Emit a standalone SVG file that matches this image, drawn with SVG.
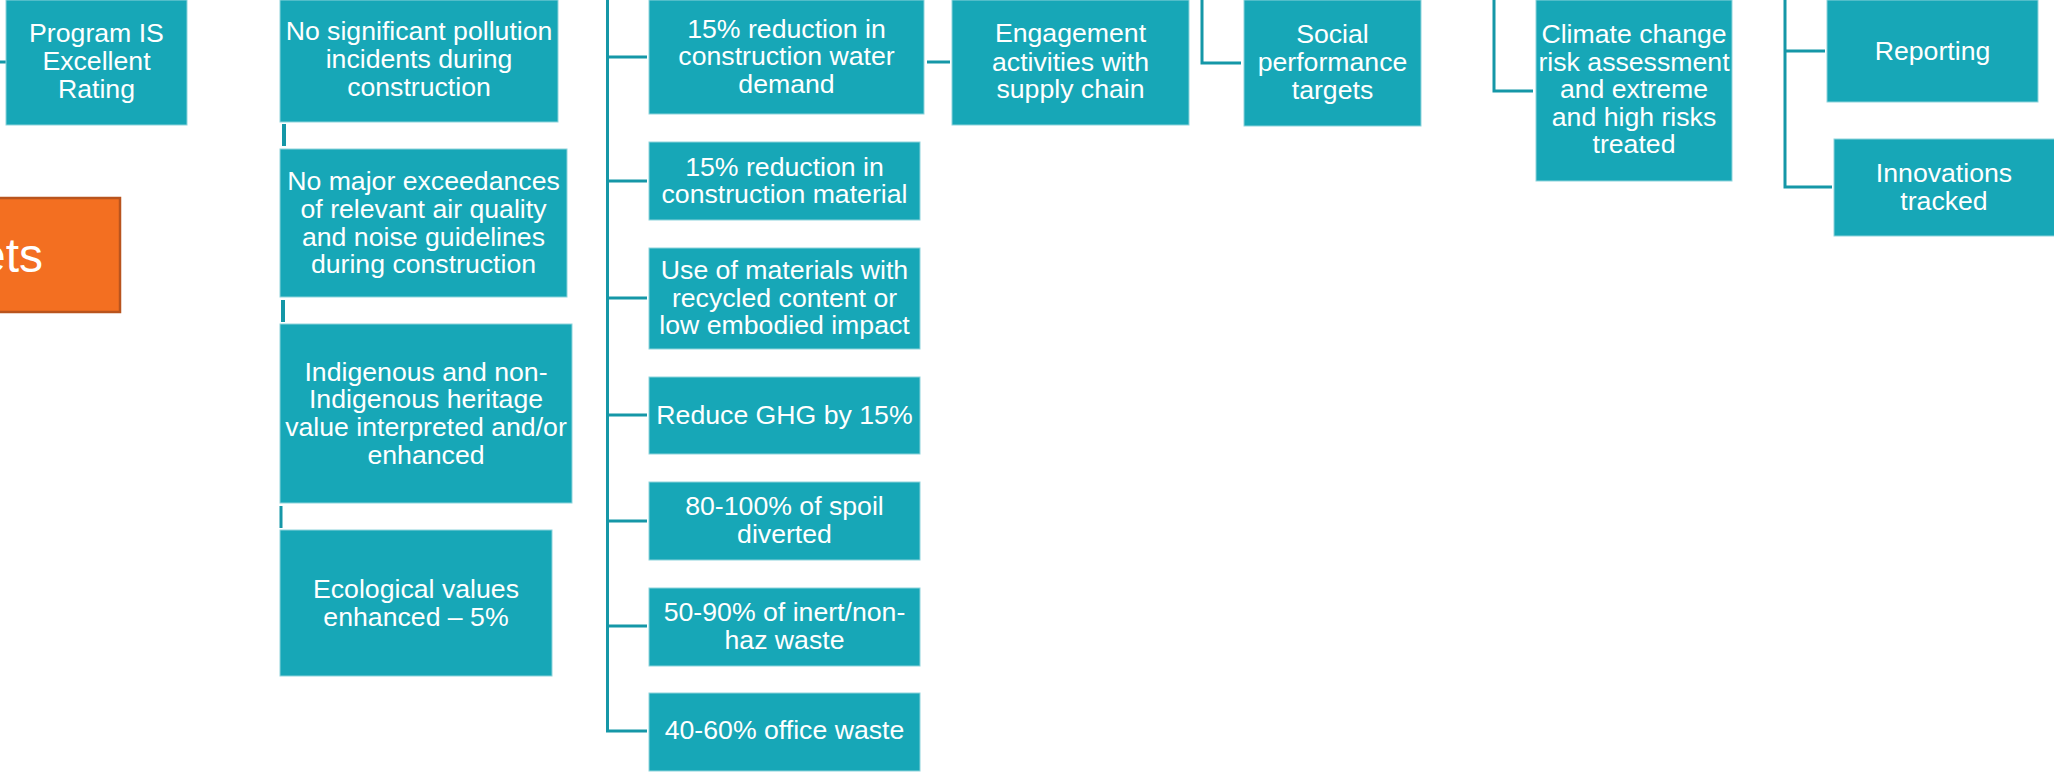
<svg xmlns="http://www.w3.org/2000/svg" width="2054" height="774" viewBox="0 0 2054 774">
<style>
.box{fill:#17A7B7;stroke:#8ED3DB;stroke-width:1}
.t{font-family:"Liberation Sans",Arial,sans-serif;font-size:26.67px;fill:#FFFFFF;text-anchor:middle}
.c{fill:none;stroke:#1597A7;stroke-width:3}
.tick{fill:#1597A7}
</style>
<rect width="2054" height="774" fill="#FFFFFF"/>
<g id="connectors">
<line class="c" x1="0" y1="62" x2="6" y2="62"/>
<rect class="tick" x="282" y="124" width="4" height="22"/>
<rect class="tick" x="281" y="300" width="4" height="22"/>
<rect class="tick" x="279.5" y="506" width="3" height="22"/>
<path class="c" d="M607.5 0 V731 H647 M607.5 57 H647 M607.5 181 H647 M607.5 298 H647 M607.5 415 H647 M607.5 521 H647 M607.5 626 H647"/>
<line class="c" x1="927" y1="62" x2="950" y2="62"/>
<path class="c" d="M1202 0 V63 H1241"/>
<path class="c" d="M1494 0 V91 H1533"/>
<path class="c" d="M1785 0 V187 H1832 M1785 51 H1825"/>
</g>
<g id="n-targets">
<rect x="-20" y="198" width="140" height="114" fill="#F36F21" stroke="#B9541E" stroke-width="2.5"/>
<text x="43" y="272" font-family="'Liberation Sans',Arial,sans-serif" font-size="48" fill="#FFFFFF" text-anchor="end">ets</text>
</g>
<g id="n-program">
<rect class="box" x="6" y="0" width="181" height="125"/>
<text class="t" x="96.5" y="42">Program IS</text>
<text class="t" x="96.5" y="70">Excellent</text>
<text class="t" x="96.5" y="98">Rating</text>
</g>
<g id="n-pollution">
<rect class="box" x="280" y="0" width="278" height="122"/>
<text class="t" x="419" y="40">No significant pollution</text>
<text class="t" x="419" y="68">incidents during</text>
<text class="t" x="419" y="96">construction</text>
</g>
<g id="n-air">
<rect class="box" x="280" y="149" width="287" height="148"/>
<text class="t" x="423.5" y="190">No major exceedances</text>
<text class="t" x="423.5" y="218">of relevant air quality</text>
<text class="t" x="423.5" y="245.5">and noise guidelines</text>
<text class="t" x="423.5" y="273">during construction</text>
</g>
<g id="n-heritage">
<rect class="box" x="280" y="324" width="292" height="179"/>
<text class="t" x="426" y="380.5">Indigenous and non-</text>
<text class="t" x="426" y="408">Indigenous heritage</text>
<text class="t" x="426" y="436">value interpreted and/or</text>
<text class="t" x="426" y="463.5">enhanced</text>
</g>
<g id="n-ecological">
<rect class="box" x="280" y="530" width="272" height="146"/>
<text class="t" x="416" y="597.5">Ecological values</text>
<text class="t" x="416" y="626">enhanced – 5%</text>
</g>
<g id="n-water">
<rect class="box" x="649" y="0" width="275" height="114"/>
<text class="t" x="786.5" y="37.5">15% reduction in</text>
<text class="t" x="786.5" y="65">construction water</text>
<text class="t" x="786.5" y="92.5">demand</text>
</g>
<g id="n-material">
<rect class="box" x="649" y="142" width="271" height="78"/>
<text class="t" x="784.5" y="175.5">15% reduction in</text>
<text class="t" x="784.5" y="203">construction material</text>
</g>
<g id="n-recycled">
<rect class="box" x="649" y="248" width="271" height="101"/>
<text class="t" x="784.5" y="278.5">Use of materials with</text>
<text class="t" x="784.5" y="306.5">recycled content or</text>
<text class="t" x="784.5" y="334">low embodied impact</text>
</g>
<g id="n-ghg">
<rect class="box" x="649" y="377" width="271" height="77"/>
<text class="t" x="784.5" y="423.5">Reduce GHG by 15%</text>
</g>
<g id="n-spoil">
<rect class="box" x="649" y="482" width="271" height="78"/>
<text class="t" x="784.5" y="515">80-100% of spoil</text>
<text class="t" x="784.5" y="543">diverted</text>
</g>
<g id="n-inert">
<rect class="box" x="649" y="588" width="271" height="78"/>
<text class="t" x="784.5" y="621">50-90% of inert/non-</text>
<text class="t" x="784.5" y="649">haz waste</text>
</g>
<g id="n-office">
<rect class="box" x="649" y="693" width="271" height="78"/>
<text class="t" x="784.5" y="739">40-60% office waste</text>
</g>
<g id="n-engagement">
<rect class="box" x="952" y="0" width="237" height="125"/>
<text class="t" x="1070.5" y="42">Engagement</text>
<text class="t" x="1070.5" y="70.5">activities with</text>
<text class="t" x="1070.5" y="98">supply chain</text>
</g>
<g id="n-social">
<rect class="box" x="1244" y="0" width="177" height="126"/>
<text class="t" x="1332.5" y="43">Social</text>
<text class="t" x="1332.5" y="71">performance</text>
<text class="t" x="1332.5" y="98.5">targets</text>
</g>
<g id="n-climate">
<rect class="box" x="1536" y="0" width="196" height="181"/>
<text class="t" x="1634" y="42.5">Climate change</text>
<text class="t" x="1634" y="70.5">risk assessment</text>
<text class="t" x="1634" y="98">and extreme</text>
<text class="t" x="1634" y="125.5">and high risks</text>
<text class="t" x="1634" y="153">treated</text>
</g>
<g id="n-reporting">
<rect class="box" x="1827" y="0" width="211" height="102"/>
<text class="t" x="1932.5" y="59.5">Reporting</text>
</g>
<g id="n-innovations">
<rect class="box" x="1834" y="139" width="225" height="97"/>
<text class="t" x="1944" y="182">Innovations</text>
<text class="t" x="1944" y="210">tracked</text>
</g>
</svg>
